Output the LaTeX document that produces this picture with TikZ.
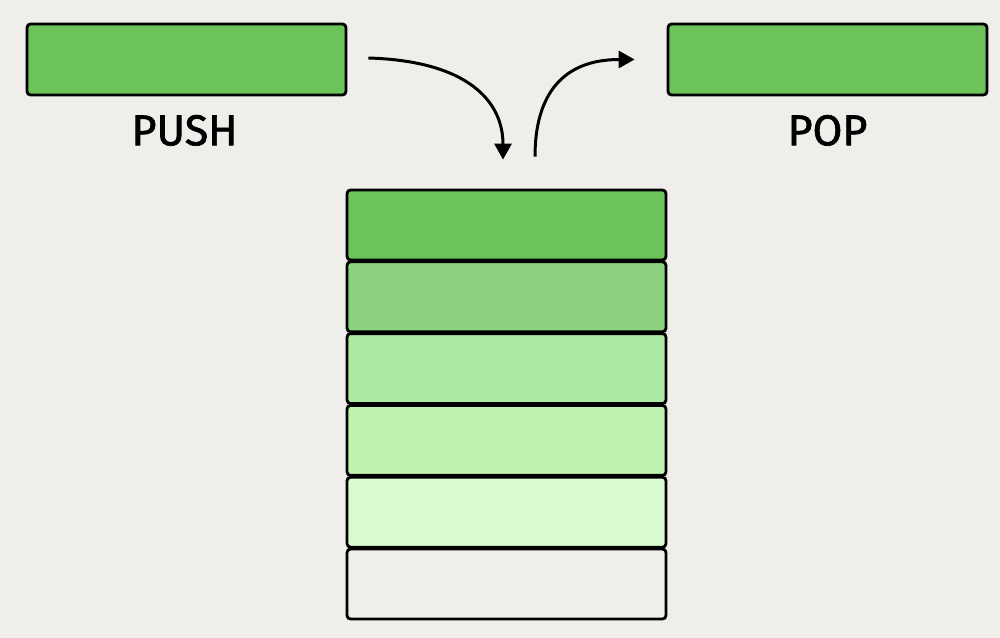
\documentclass[tikz,border=0pt]{standalone}
\usepackage{fontspec}
\setmainfont{Fira Sans}
\newfontfamily\lblfont{Fira Sans}[FakeBold=1.6]
\usepackage{tikz}
\usetikzlibrary{calc,arrows.meta,positioning}
\definecolor{bgx}{HTML}{EFEEEA}
\definecolor{greenA}{HTML}{6BC35A}
\definecolor{greenB}{HTML}{8DD37F}
\definecolor{greenC}{HTML}{AEE9A3}
\definecolor{greenD}{HTML}{BFF3B0}
\definecolor{greenE}{HTML}{D8FBD2}
\tikzset{
  cell/.style={draw=black,line width=1.6pt,rounded corners=2pt,minimum width=6.38cm,minimum height=1.4cm,inner sep=0pt},
  ar/.style={-{Triangle[length=3.2mm,width=3.4mm]},line width=1.7pt},
  lbl/.style={font=\lblfont\fontsize{24.5}{30}\selectfont,inner sep=0pt}
}

\begin{document}
\begin{tikzpicture}[x=0.02cm,y=-0.02cm]
\fill[bgx] (0,0) rectangle (1000,638);
\node[cell,fill=greenA,minimum height=1.42cm] (pushbox) at (186.5,59.5) {};
\node[cell,fill=greenA,minimum height=1.42cm] (popbox) at (827.5,59.5) {};
\node[lbl] (pushlbl) at ($(pushbox.south)+(-2,34)$) {PUSH};
\node[lbl] (poplbl) at ($(popbox.south)+(0,34)$) {POP};
% the stack, top to bottom
\foreach \c [count=\i] in {greenA,greenB,greenC,greenD,greenE,bgx}
  \node[cell,fill=\c] (s\i) at (506.5,{225+71.8*(\i-1)}) {};
\coordinate (pushend) at ($(s1.north)+(-3.5,-29)$);
\coordinate (popstart) at ($(s1.north)+(28.5,-32)$);
\draw[ar] ($(pushbox.east)+(21,-1.5)$) .. controls +(100,3) and +(0,-58) .. (pushend);
\draw[ar] (popstart) .. controls +(0,-62) and +(-72,0) .. ($(popbox.west)+(-32,0)$);
\end{tikzpicture}
\end{document}
